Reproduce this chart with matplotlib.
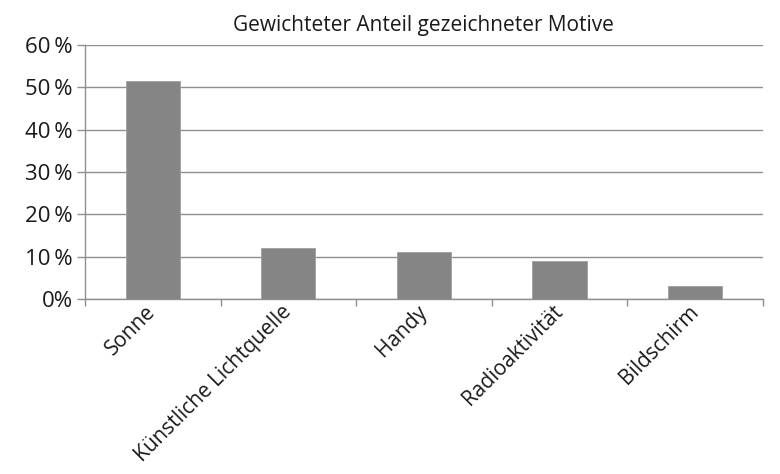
#!/usr/bin/env python3
"""Gewichteter Anteil gezeichneter Motive - bar chart."""

import matplotlib
matplotlib.use('Agg')
import matplotlib.pyplot as plt
from matplotlib.ticker import FixedLocator
import numpy as np

# Data
categories = ['Sonne', 'Künstliche Lichtquelle', 'Handy', 'Radioaktivität', 'Bildschirm']
shares = [51.6, 12.1, 11.2, 9.1, 3.1]  # percent
y_ticks = [0, 10, 20, 30, 40, 50, 60]
y_tick_labels = ['0%', '10\u2009%', '20\u2009%', '30\u2009%', '40\u2009%', '50\u2009%', '60\u2009%']
title = 'Gewichteter Anteil gezeichneter Motive'

BAR_COLOR = '#858585'
GRID_COLOR = '#8f8f8f'
TEXT_COLOR = '#1a1a1a'

plt.rcParams['font.family'] = ['Open Sans', 'DejaVu Sans']


def main():
    fig = plt.figure(figsize=(7.8, 4.74), dpi=100)
    ax = fig.add_axes([0.109, 0.369, 0.869, 0.536])

    x = np.arange(len(categories))
    ax.bar(x, shares, width=0.4, color=BAR_COLOR, edgecolor='#a0a0a0',
           linewidth=0.6, zorder=3)

    ax.set_xlim(-0.5, len(categories) - 0.5)
    ax.set_ylim(0, 60)

    # y axis
    ax.set_yticks(y_ticks)
    ax.set_yticklabels(y_tick_labels, fontsize=16, color=TEXT_COLOR)
    ax.tick_params(axis='y', length=6, width=1.0, color=GRID_COLOR, pad=3)
    ax.yaxis.grid(True, color=GRID_COLOR, linewidth=1.0, zorder=0)
    ax.set_axisbelow(True)

    # x axis: labels at centres, tick marks at category boundaries
    ax.set_xticks(x)
    ax.set_xticklabels(categories, rotation=45, ha='right', va='center',
                       rotation_mode='anchor', fontsize=15, color=TEXT_COLOR)
    ax.tick_params(axis='x', which='major', length=0, pad=7)
    ax.xaxis.set_minor_locator(FixedLocator(np.arange(len(categories) + 1) - 0.5))
    ax.tick_params(axis='x', which='minor', length=5, width=1.0, color=GRID_COLOR)

    for side in ('top', 'right'):
        ax.spines[side].set_visible(False)
    for side in ('left', 'bottom'):
        ax.spines[side].set_color(GRID_COLOR)
        ax.spines[side].set_linewidth(1.0)

    ax.set_title(title, fontsize=15, color=TEXT_COLOR, pad=10)

    fig.savefig('out.png', dpi=100, facecolor='white')


if __name__ == '__main__':
    main()
